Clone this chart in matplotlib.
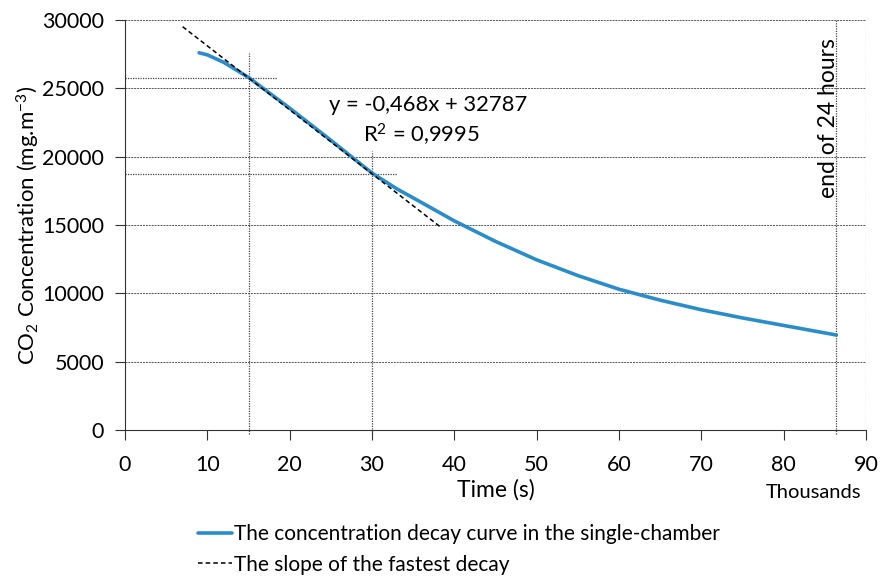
import matplotlib
matplotlib.use("Agg")
import matplotlib.pyplot as plt
import numpy as np

plt.rcParams['font.family'] = ['Lato', 'DejaVu Sans']
plt.rcParams['mathtext.fontset'] = 'custom'
plt.rcParams['mathtext.rm'] = 'Lato'
plt.rcParams['mathtext.it'] = 'Lato:italic'

# Data (time in thousands of seconds, concentration in mg/m3)
time_k = [9.0, 10, 12, 15, 18, 20, 25, 30, 33, 36, 40, 45, 50, 55, 60, 65, 70, 75, 80, 86.4]
conc = [27600, 27450, 26900, 25800, 24450, 23550, 21200, 18800, 17650, 16650, 15300,
        13800, 12450, 11300, 10300, 9500, 8800, 8200, 7650, 6950]
slope = -0.468
intercept = 32787
fit_x = [7.0, 38.5]
marks_x = [15, 30]
end_x = 86.4

blue = '#2A8DCB'

fig = plt.figure(figsize=(8.92, 5.81), dpi=100)
ax = fig.add_axes([125/892, 1-430/581, (866-125)/892, (430-20)/581])

ax.set_xlim(0, 90)
ax.set_ylim(0, 30000)
ax.set_xticks(range(0, 91, 10))
ax.set_yticks(range(0, 30001, 5000))
ax.yaxis.grid(True, linestyle=(0, (2, 1)), color='#555555', linewidth=0.7)
ax.set_axisbelow(True)

for s in ['top', 'right']:
    ax.spines[s].set_visible(False)
ax.spines['left'].set_color('#333333')
ax.spines['bottom'].set_color('#333333')
ax.axvline(90, color='#555555', linestyle=(0, (1, 1)), linewidth=0.8)

# reference dotted lines
dot = dict(color='#444444', linestyle=(0, (1, 1)), linewidth=0.9)
ext_top = {15: 1800, 30: 1700}
ext_right = {15: 3.5, 30: 3.0}
for mx in marks_x:
    my = slope * mx * 1000 + intercept
    ax.plot([mx, mx], [-300, my + ext_top[mx]], clip_on=False, **dot)
    ax.plot([0, mx + ext_right[mx]], [my, my], **dot)
ax.plot([end_x, end_x], [-300, 30000], clip_on=False, **dot)

fx = np.array(fit_x)
ax.plot(time_k, conc, color=blue, linewidth=2.6, solid_capstyle='round',
        label='The concentration decay curve in the single-chamber', zorder=3)
ax.plot(fx, slope * fx * 1000 + intercept, color='black', linestyle=(0, (3, 2)),
        linewidth=1.1, label='The slope of the fastest decay', zorder=4)

ax.tick_params(axis='both', labelsize=15.5, direction='out', length=7, color='#333333')
ax.tick_params(axis='x', pad=11)
ax.tick_params(axis='y', pad=8)

ax.set_xlabel('Time (s)', fontsize=16.5, labelpad=3)
ax.set_ylabel('CO$_2$ Concentration (mg.m$^{-3}$)', fontsize=16, labelpad=0)

ax.text(36.8, 23770, 'y = -0,468x + 32787', fontsize=15.8, ha='center', va='center')
ax.text(36.0, 21580, 'R$^2$ = 0,9995', fontsize=15.8, ha='center', va='center')
ax.text(end_x + 0.35, 30000 - 1300, 'end of 24 hours', fontsize=16.5, rotation=90,
        ha='right', va='top')
fig.text(814/892, 1-492/581, 'Thousands', fontsize=14.5, ha='center', va='center')

leg = fig.legend(loc='upper left', bbox_to_anchor=(190/892, 1-516/581), frameon=False,
                 fontsize=15, handlelength=1.6, handletextpad=0.1, labelspacing=0.5,
                 borderaxespad=0)

fig.savefig('out.png', dpi=100)
